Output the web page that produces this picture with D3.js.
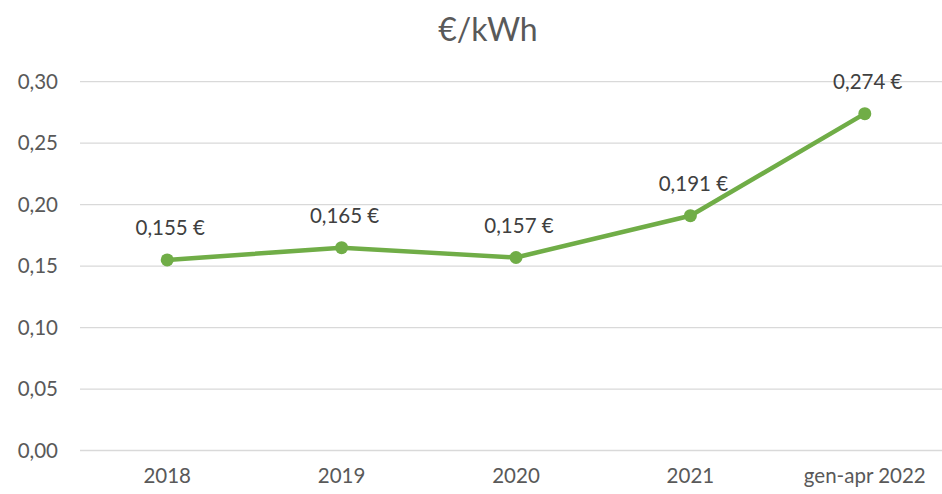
<!DOCTYPE html>
<html>
<head>
<meta charset="utf-8">
<script src="https://cdn.jsdelivr.net/npm/d3@7"></script>
<style>
  body { margin: 0; background: #fff; }
  text { font-family: Lato, "Open Sans", sans-serif; }
</style>
</head>
<body>
<svg id="chart" width="942" height="494"></svg>
<script>
// data
const categories = ["2018", "2019", "2020", "2021", "gen-apr 2022"];
const prices = [0.155, 0.165, 0.157, 0.191, 0.274];
const yTicks = [0, 0.05, 0.10, 0.15, 0.20, 0.25, 0.30];

const width = 942, height = 494;
const margin = {top: 82, right: -10, bottom: 43, left: 80};
const labelSize = 20.5;

const svg = d3.select("#chart");

const x = d3.scalePoint()
    .domain(categories)
    .range([margin.left, width - margin.right])
    .padding(0.5);

const y = d3.scaleLinear()
    .domain([0, 0.30])
    .range([height - margin.bottom - 0.5, margin.top - 0.3]);

const comma = v => v.toFixed(2).replace(".", ",");

// gridlines
svg.append("g")
    .selectAll("line")
    .data(yTicks)
    .enter().append("line")
    .attr("x1", margin.left)
    .attr("x2", width)
    .attr("y1", d => y(d))
    .attr("y2", d => y(d))
    .attr("stroke", "#d9d9d9")
    .attr("stroke-width", 1.3);

// y tick labels
svg.append("g")
    .selectAll("text")
    .data(yTicks)
    .enter().append("text")
    .attr("x", 58)
    .attr("y", d => y(d))
    .attr("dy", "0.35em")
    .attr("text-anchor", "end")
    .attr("font-size", labelSize)
    .attr("fill", "#595959")
    .text(d => comma(d));

// x tick labels
svg.append("g")
    .selectAll("text")
    .data(categories)
    .enter().append("text")
    .attr("x", d => x(d))
    .attr("y", 483)
    .attr("text-anchor", "middle")
    .attr("font-size", labelSize)
    .attr("fill", "#595959")
    .text(d => d);

// title
svg.append("text")
    .attr("x", 488)
    .attr("y", 41)
    .attr("text-anchor", "middle")
    .attr("font-size", 32)
    .attr("fill", "#595959")
    .text("€/kWh");

const points = categories.map((c, i) => ({cat: c, val: prices[i]}));

const line = d3.line()
    .x(d => x(d.cat))
    .y(d => y(d.val));

svg.append("path")
    .datum(points)
    .attr("d", line)
    .attr("fill", "none")
    .attr("stroke", "#70ad47")
    .attr("stroke-width", 4.5)
    .attr("stroke-linejoin", "round");

svg.append("g")
    .selectAll("circle")
    .data(points)
    .enter().append("circle")
    .attr("cx", d => x(d.cat))
    .attr("cy", d => y(d.val))
    .attr("r", 6.5)
    .attr("fill", "#70ad47");

// data labels
svg.append("g")
    .selectAll("text")
    .data(points)
    .enter().append("text")
    .attr("x", d => x(d.cat) + 3)
    .attr("y", d => y(d.val) - 32)
    .attr("dy", "0.35em")
    .attr("text-anchor", "middle")
    .attr("font-size", labelSize)
    .attr("fill", "#404040")
    .text(d => d.val.toFixed(3).replace(".", ",") + " €");
</script>
</body>
</html>
